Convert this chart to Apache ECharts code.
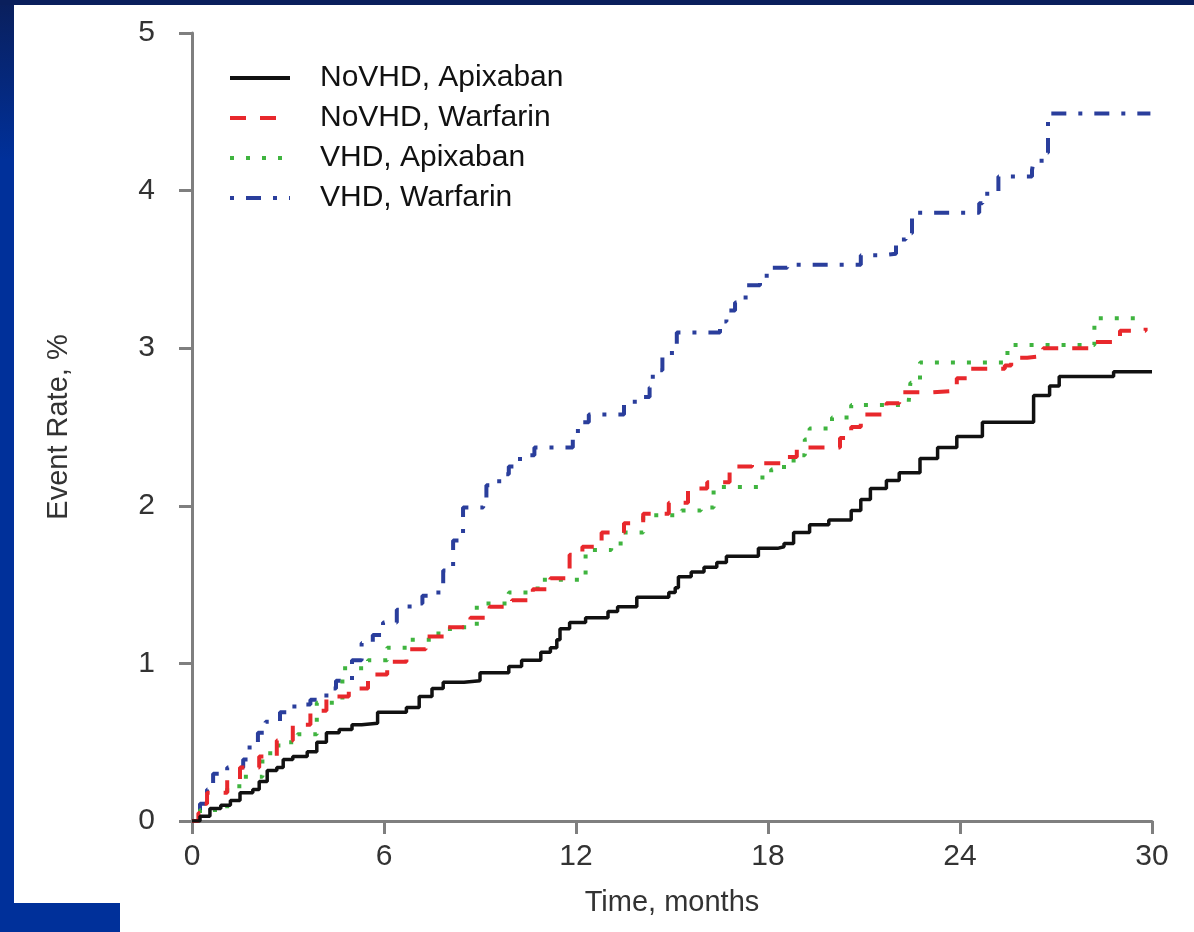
<!DOCTYPE html>
<html>
<head>
<meta charset="utf-8">
<script src="https://cdn.jsdelivr.net/npm/echarts@6/dist/echarts.min.js"></script>
<style>
  html, body { margin: 0; padding: 0; }
  body { width: 1194px; height: 932px; position: relative; overflow: hidden; background: #fff; }
  .strip-left { position: absolute; left: 0; top: 0; width: 14px; height: 932px;
    background: linear-gradient(to bottom, #0a1f5c 0px, #00309a 160px, #00309a 932px); }
  .strip-top { position: absolute; left: 0; top: 0; width: 1194px; height: 5px; background: #0a1f5c; }
  .block { position: absolute; left: 0; top: 903px; width: 120px; height: 29px; background: #00309a; }
  #chart { position: absolute; left: 0; top: 0; width: 1194px; height: 932px; }
</style>
</head>
<body>
<div class="strip-left"></div>
<div class="strip-top"></div>
<div class="block"></div>
<div id="chart"></div>
<script>
// 月份 / 事件率 (%)，按图读取的 KM 阶梯点
var noVhdApixMonths = [0, 0.25, 0.56, 0.9, 1.2, 1.5, 1.9, 2.1, 2.35, 2.65, 2.85, 3.15, 3.6, 3.9, 4.2, 4.6, 5.0, 5.3, 5.8, 6.3, 6.7, 7.1, 7.5, 7.85, 8.5, 9.0, 9.9, 10.3, 10.9, 11.2, 11.4, 11.5, 11.8, 12.3, 13.0, 13.3, 13.9, 14.9, 15.1, 15.2, 15.6, 16.0, 16.4, 16.7, 17.7, 18.3, 18.5, 18.8, 19.3, 19.9, 20.6, 20.9, 21.2, 21.7, 22.1, 22.75, 23.3, 23.9, 24.7, 26.3, 26.8, 27.1, 28.8, 30];
var noVhdApixRates = [0, 0.03, 0.08, 0.10, 0.13, 0.18, 0.20, 0.25, 0.32, 0.34, 0.39, 0.41, 0.44, 0.50, 0.56, 0.58, 0.61, 0.62, 0.69, 0.69, 0.72, 0.79, 0.84, 0.88, 0.89, 0.94, 0.98, 1.02, 1.07, 1.10, 1.15, 1.22, 1.26, 1.29, 1.33, 1.36, 1.42, 1.45, 1.48, 1.55, 1.58, 1.61, 1.64, 1.68, 1.73, 1.74, 1.76, 1.83, 1.88, 1.91, 1.97, 2.04, 2.11, 2.16, 2.21, 2.30, 2.37, 2.44, 2.53, 2.70, 2.76, 2.82, 2.85, 2.85];

var noVhdWarfMonths = [0, 0.2, 0.35, 0.47, 1.1, 1.5, 2.1, 2.65, 3.15, 3.7, 4.2, 4.9, 5.5, 6.1, 6.7, 7.3, 8.0, 8.7, 9.3, 10.0, 10.65, 11.2, 11.8, 12.2, 12.8, 13.5, 14.1, 14.9, 15.5, 16.1, 16.8, 17.5, 18.5, 18.9, 19.4, 20.25, 20.6, 20.9, 21.7, 22.1, 23.1, 23.9, 24.3, 25.4, 25.6, 26.1, 26.6, 28.1, 29.0, 29.8];
var noVhdWarfRates = [0, 0.05, 0.11, 0.18, 0.26, 0.34, 0.41, 0.51, 0.61, 0.70, 0.79, 0.84, 0.93, 1.01, 1.09, 1.17, 1.23, 1.29, 1.36, 1.40, 1.47, 1.54, 1.69, 1.74, 1.83, 1.89, 1.95, 2.02, 2.11, 2.15, 2.25, 2.27, 2.31, 2.37, 2.37, 2.43, 2.50, 2.58, 2.65, 2.72, 2.73, 2.81, 2.87, 2.89, 2.94, 2.95, 3.00, 3.04, 3.11, 3.13];

var vhdApixMonths = [0, 0.25, 1.1, 1.6, 2.2, 2.7, 3.3, 3.9, 4.7, 5.5, 6.1, 6.8, 7.5, 8.06, 8.9, 9.9, 10.8, 12.3, 13.1, 13.5, 14.1, 15.3, 15.9, 16.3, 17.7, 18.1, 18.5, 18.8, 19.15, 19.3, 20.0, 20.6, 22.4, 22.45, 22.75, 25.4, 25.6, 28.2, 29.8];
var vhdApixRates = [0, 0.07, 0.22, 0.28, 0.43, 0.50, 0.55, 0.75, 0.97, 1.02, 1.10, 1.15, 1.19, 1.23, 1.38, 1.45, 1.53, 1.72, 1.76, 1.83, 1.94, 1.97, 1.99, 2.12, 2.18, 2.23, 2.26, 2.32, 2.42, 2.49, 2.56, 2.64, 2.67, 2.78, 2.91, 2.97, 3.02, 3.19, 3.19];

var vhdWarfMonths = [0, 0.25, 0.47, 0.66, 1.1, 1.6, 1.8, 2.06, 2.3, 2.75, 3.2, 3.7, 4.2, 4.5, 5.0, 5.3, 5.65, 5.97, 6.4, 6.8, 7.2, 7.7, 7.85, 8.16, 8.47, 9.1, 9.2, 9.6, 9.9, 10.25, 10.7, 11.9, 12.06, 12.4, 13.5, 13.9, 14.3, 14.4, 14.7, 15.15, 16.5, 16.7, 16.97, 17.3, 17.75, 18.1, 18.6, 20.9, 21.6, 22.0, 22.3, 22.5, 24.6, 24.7, 25.2, 26.25, 26.3, 26.65, 26.75, 29.95];
var vhdWarfRates = [0, 0.11, 0.20, 0.30, 0.34, 0.39, 0.48, 0.56, 0.63, 0.69, 0.74, 0.77, 0.84, 0.89, 1.02, 1.13, 1.18, 1.26, 1.34, 1.38, 1.43, 1.48, 1.59, 1.78, 1.99, 2.04, 2.13, 2.20, 2.25, 2.32, 2.37, 2.44, 2.53, 2.58, 2.66, 2.69, 2.75, 2.86, 2.97, 3.10, 3.17, 3.24, 3.29, 3.40, 3.46, 3.51, 3.53, 3.59, 3.60, 3.69, 3.73, 3.86, 3.92, 3.98, 4.09, 4.13, 4.19, 4.24, 4.49, 4.49];

var seriesNames = ['NoVHD, Apixaban', 'NoVHD, Warfarin', 'VHD, Apixaban', 'VHD, Warfarin'];
var xTicks = [0, 6, 12, 18, 24, 30];
var yTicks = [0, 1, 2, 3, 4, 5];

function pairs(xs, ys) {
  return xs.map(function (x, i) { return [x, ys[i]]; });
}

var myChart = echarts.init(document.getElementById('chart'));
var axisColor = '#7f7f7f';
var textColor = '#333333';
var fontFamily = '"Liberation Sans", Arial, Helvetica, sans-serif';

var option = {
  animation: false,
  grid: { left: 192, top: 33, right: 42, bottom: 111 },
  legend: {
    left: 228,
    top: 63,
    padding: 0,
    orient: 'vertical',
    itemWidth: 60,
    itemHeight: 20,
    itemGap: 10,
    data: seriesNames,
    itemStyle: { opacity: 0 },   // 图例里不要圆点，只留线型
    lineStyle: { width: 4 },
    textStyle: {
      color: '#111111',
      fontSize: 30,
      fontFamily: fontFamily,
      padding: [0, 0, 0, 25]
    }
  },
  xAxis: {
    type: 'value',
    min: xTicks[0],
    max: xTicks[xTicks.length - 1],
    interval: 6,
    name: 'Time, months',
    nameLocation: 'middle',
    nameGap: 67,
    nameTextStyle: { color: textColor, fontSize: 29, fontFamily: fontFamily },
    splitLine: { show: false },
    axisLine: { lineStyle: { color: axisColor, width: 3 } },
    axisTick: { length: 13, lineStyle: { color: axisColor, width: 3 } },
    axisLabel: { margin: 21, color: textColor, fontSize: 30, fontFamily: fontFamily }
  },
  yAxis: {
    type: 'value',
    min: yTicks[0],
    max: yTicks[yTicks.length - 1],
    interval: 1,
    name: 'Event Rate, %',
    nameLocation: 'middle',
    nameGap: 119,
    nameTextStyle: { color: textColor, fontSize: 29, fontFamily: fontFamily },
    splitLine: { show: false },
    axisLine: { show: true, lineStyle: { color: axisColor, width: 3 } },
    axisTick: { show: true, length: 13, lineStyle: { color: axisColor, width: 3 } },
    axisLabel: { margin: 37, color: textColor, fontSize: 30, fontFamily: fontFamily }
  },
  series: [
    {
      name: seriesNames[0], type: 'line', step: 'end', symbol: 'none', z: 4,
      data: pairs(noVhdApixMonths, noVhdApixRates),
      itemStyle: { color: '#111111' },
      lineStyle: { color: '#111111', width: 3.5, type: 'solid' }
    },
    {
      name: seriesNames[1], type: 'line', step: 'end', symbol: 'none', z: 3,
      data: pairs(noVhdWarfMonths, noVhdWarfRates),
      itemStyle: { color: '#e8282c' },
      lineStyle: { color: '#e8282c', width: 4, type: [16, 14] }
    },
    {
      name: seriesNames[2], type: 'line', step: 'end', symbol: 'none', z: 2,
      data: pairs(vhdApixMonths, vhdApixRates),
      itemStyle: { color: '#3fb43f' },
      lineStyle: { color: '#3fb43f', width: 4, type: [4, 12] }
    },
    {
      name: seriesNames[3], type: 'line', step: 'end', symbol: 'none', z: 1,
      data: pairs(vhdWarfMonths, vhdWarfRates),
      itemStyle: { color: '#2a3e9c' },
      lineStyle: { color: '#2a3e9c', width: 4, type: [4, 12, 15, 12] }
    }
  ]
};

myChart.setOption(option);
window.addEventListener('resize', function () { myChart.resize(); });
</script>
</body>
</html>
